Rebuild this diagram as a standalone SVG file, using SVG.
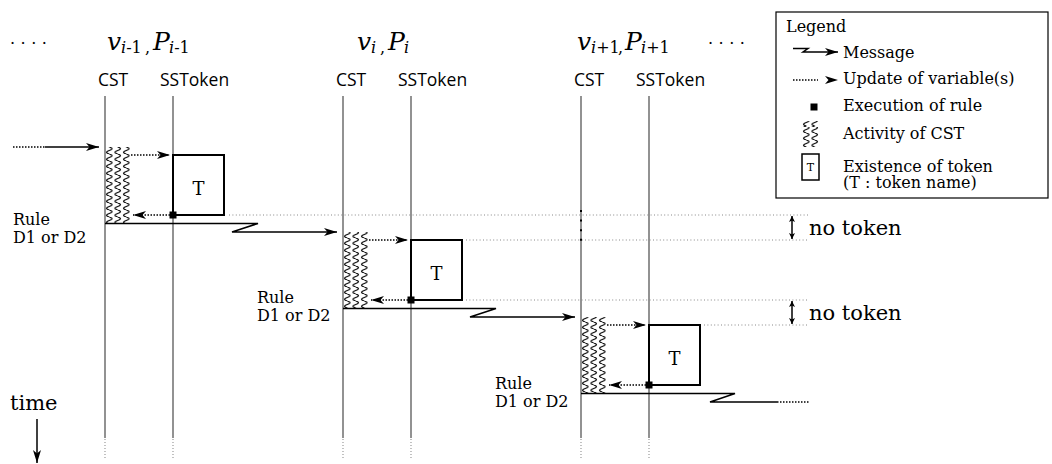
<svg xmlns="http://www.w3.org/2000/svg" width="1052" height="464" viewBox="0 0 1052 464">
<style>
.serif{font-family:"DejaVu Serif","Liberation Serif",serif;fill:#000}
.sans{font-family:"Open Sans","Noto Sans","DejaVu Sans",sans-serif;fill:#000}
.hdr{font-size:17.5px}
.ttl{font-size:25px}
.sub{font-size:16px}
.it{font-style:italic}
.lg{font-size:16px}
.rule{font-size:16px}
.nt{font-size:21px}
.life{stroke:#777;stroke-width:1.6;fill:none}
.lifed{stroke:#999;stroke-width:1.2;stroke-dasharray:1 2;fill:none}
.msg{stroke:#000;stroke-width:1.5;fill:none}
.dot{stroke:#000;stroke-width:1.5;stroke-dasharray:1.5 1.5;fill:none}
.gdot{stroke:#888;stroke-width:1;stroke-dasharray:1 2.4;fill:none}
.box{fill:#fff;stroke:#000;stroke-width:2}
.act{fill:url(#wave);stroke:none}
.sq{fill:#000}
</style>
<defs>
<marker id="ah" viewBox="0 0 13 8" refX="13" refY="4" markerWidth="13" markerHeight="8" markerUnits="userSpaceOnUse" orient="auto">
<path d="M0,0 L13,4 L0,8 L3.5,4 z" fill="#000"/>
</marker>
<marker id="ahs" viewBox="0 0 6 6" refX="6" refY="3" markerWidth="6" markerHeight="6" markerUnits="userSpaceOnUse" orient="auto-start-reverse">
<path d="M0,0 L6,3 L0,6 L1.5,3 z" fill="#000"/>
</marker>
<pattern id="wave" patternUnits="userSpaceOnUse" x="105" y="147" width="8.5" height="7">
<path d="M4.25,0 Q9.75,1.75 4.25,3.5 Q-1.25,5.25 4.25,7" fill="none" stroke="#000" stroke-width="1.15"/>
</pattern>
</defs>

<g id="titles">
<text class="serif" x="10" y="44" font-size="16" letter-spacing="5.5">....</text>
<text class="serif ttl"><tspan x="107" y="50" class="it">v</tspan><tspan x="121" y="53" class="sub"><tspan class="it">i</tspan>-1</tspan><tspan x="145" y="53" class="sub">,</tspan><tspan x="153" y="50" class="it">P</tspan><tspan x="169" y="53" class="sub"><tspan class="it">i</tspan>-1</tspan></text>
<text class="serif ttl"><tspan x="357" y="50" class="it">v</tspan><tspan x="371" y="53" class="sub it">i</tspan><tspan x="380" y="53" class="sub">,</tspan><tspan x="388" y="50" class="it">P</tspan><tspan x="404" y="53" class="sub it">i</tspan></text>
<text class="serif ttl"><tspan x="577" y="50" class="it">v</tspan><tspan x="591" y="53" class="sub"><tspan class="it">i</tspan>+1</tspan><tspan x="618" y="53" class="sub">,</tspan><tspan x="625" y="50" class="it">P</tspan><tspan x="641" y="53" class="sub"><tspan class="it">i</tspan>+1</tspan></text>
<text class="serif" x="708" y="44" font-size="16" letter-spacing="5.5">....</text>
<text class="sans hdr" x="98" y="86">CST</text>
<text class="sans hdr" x="160" y="86">SSToken</text>
<text class="sans hdr" x="336" y="86">CST</text>
<text class="sans hdr" x="398" y="86">SSToken</text>
<text class="sans hdr" x="574" y="86">CST</text>
<text class="sans hdr" x="636" y="86">SSToken</text>
</g>

<g id="connectors">
<line class="life" x1="105" y1="96" x2="105" y2="438"/>
<line class="life" x1="173" y1="96" x2="173" y2="438"/>
<line class="life" x1="343" y1="96" x2="343" y2="438"/>
<line class="life" x1="411" y1="96" x2="411" y2="438"/>
<line class="life" x1="581" y1="96" x2="581" y2="438"/>
<line class="life" x1="649" y1="96" x2="649" y2="438"/>
<line class="lifed" x1="105" y1="439" x2="105" y2="458"/>
<line class="lifed" x1="173" y1="439" x2="173" y2="458"/>
<line class="lifed" x1="343" y1="439" x2="343" y2="458"/>
<line class="lifed" x1="411" y1="439" x2="411" y2="458"/>
<line class="lifed" x1="581" y1="439" x2="581" y2="458"/>
<line class="lifed" x1="649" y1="439" x2="649" y2="458"/>

<line class="gdot" x1="229" y1="215" x2="808" y2="215"/>
<line class="gdot" x1="466" y1="240" x2="808" y2="240"/>
<line class="gdot" x1="466" y1="300" x2="808" y2="300"/>
<line class="gdot" x1="704" y1="325" x2="808" y2="325"/>
<line x1="581" y1="210" x2="581" y2="242" stroke="#000" stroke-width="2" stroke-dasharray="2 7.6"/>

<line class="msg" x1="792" y1="216" x2="792" y2="239" marker-start="url(#ahs)" marker-end="url(#ahs)"/>
<line class="msg" x1="792" y1="301" x2="792" y2="324" marker-start="url(#ahs)" marker-end="url(#ahs)"/>

<line class="dot" x1="13" y1="147" x2="45" y2="147"/>
<line class="msg" x1="45" y1="147" x2="99" y2="147" marker-end="url(#ah)"/>
<line class="dot" x1="131" y1="155" x2="170" y2="155" marker-end="url(#ah)"/>
<line class="dot" x1="173" y1="215" x2="133" y2="215" marker-end="url(#ah)"/>
<polyline class="msg" points="105,223.5 258,223.5 232,232 337,232" marker-end="url(#ah)"/>

<line class="dot" x1="369" y1="240" x2="408" y2="240" marker-end="url(#ah)"/>
<line class="dot" x1="411" y1="300" x2="371" y2="300" marker-end="url(#ah)"/>
<polyline class="msg" points="343,308.5 496,308.5 470,317 575,317" marker-end="url(#ah)"/>

<line class="dot" x1="607" y1="325" x2="646" y2="325" marker-end="url(#ah)"/>
<line class="dot" x1="649" y1="385" x2="609" y2="385" marker-end="url(#ah)"/>
<polyline class="msg" points="581,393.5 735,393.5 710,402 777,402"/>
<line class="dot" x1="777" y1="402" x2="810" y2="402"/>

<line class="msg" x1="37" y1="419" x2="37" y2="463" marker-end="url(#ah)"/>
</g>

<g id="lane1">
<rect class="act" x="105.8" y="147" width="24.5" height="76"/>
<rect class="box" x="173" y="155" width="51" height="60"/>
<text class="serif" x="198.5" y="195" font-size="18" text-anchor="middle">T</text>
<rect class="sq" x="169.5" y="211.5" width="7" height="7"/>
<text class="serif rule" x="13" y="225">Rule</text>
<text class="serif rule" x="13" y="243">D1 or D2</text>
</g>

<g id="lane2">
<rect class="act" x="343.8" y="232" width="24.5" height="76"/>
<rect class="box" x="411" y="240" width="51" height="60"/>
<text class="serif" x="436.5" y="280" font-size="18" text-anchor="middle">T</text>
<rect class="sq" x="407.5" y="296.5" width="7" height="7"/>
<text class="serif rule" x="257" y="303">Rule</text>
<text class="serif rule" x="257" y="321">D1 or D2</text>
</g>

<g id="lane3">
<rect class="act" x="581.8" y="317" width="24.5" height="76"/>
<rect class="box" x="649" y="325" width="51" height="60"/>
<text class="serif" x="674.5" y="365" font-size="18" text-anchor="middle">T</text>
<rect class="sq" x="645.5" y="381.5" width="7" height="7"/>
<text class="serif rule" x="495" y="389">Rule</text>
<text class="serif rule" x="495" y="407">D1 or D2</text>
</g>

<g id="notoken">
<text class="serif nt" x="809" y="235">no token</text>
<text class="serif nt" x="809" y="320">no token</text>
</g>

<g id="time">
<text class="serif" x="10" y="410" font-size="21">time</text>
</g>

<g id="legend">
<rect x="776" y="12" width="272" height="186" fill="#fff" stroke="#000" stroke-width="1.2"/>
<text class="serif lg" x="786" y="32">Legend</text>
<polyline class="msg" points="793,48.5 808,48.5 803,52 838,52" marker-end="url(#ah)"/>
<text class="serif lg" x="843" y="58">Message</text>
<line class="dot" x1="793" y1="80" x2="818" y2="80"/>
<line class="msg" x1="818" y1="80" x2="838" y2="80" stroke-opacity="0" marker-end="url(#ah)"/>
<text class="serif lg" x="843" y="84">Update of variable(s)</text>
<rect class="sq" x="810.5" y="103.5" width="7" height="7"/>
<text class="serif lg" x="843" y="111">Execution of rule</text>
<rect x="801" y="121" width="19" height="26" fill="url(#wave)"/>
<text class="serif lg" x="843" y="139">Activity of CST</text>
<rect x="802" y="154" width="17" height="26" fill="none" stroke="#000" stroke-width="1.5"/>
<text class="serif" x="810.5" y="171" font-size="11" text-anchor="middle">T</text>
<text class="serif lg" x="843" y="172">Existence of token</text>
<text class="serif lg" x="843" y="188">(T : token name)</text>
</g>
</svg>
